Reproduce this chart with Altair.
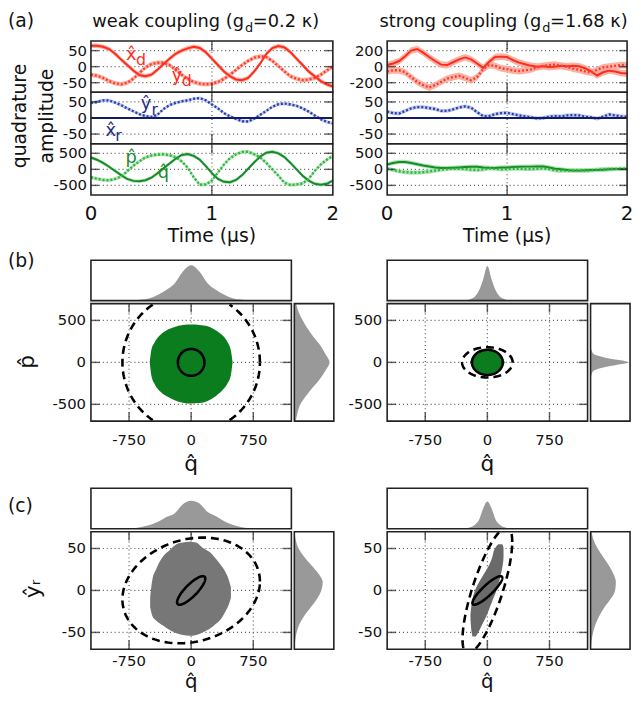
import numpy as np
import pandas as pd
import altair as alt

F = "DejaVu Sans"
INK = "#111111"
VIEW_W, VIEW_H = 634, 689

# ---------------- time traces (panel a) ----------------
T = [round(0.05 * i, 2) for i in range(41)]

WEAK = {
    "xd": [65, 65, 62, 55, 40, 22, 5, -12, -26, -30, -25, -10, 8, 25, 40, 50, 57, 62, 58, 45, 25,
           5, -15, -30, -40, -42, -35, -15, 10, 40, 58, 64, 60, 45, 25, 5, -15, -30, -45, -55, -62],
    "yd": [-25, -28, -35, -45, -52, -55, -50, -38, -20, -3, 8, 12, 12, 5, -10, -25, -38, -48, -53, -55, -53,
           -48, -38, -25, -10, 5, 18, 28, 32, 30, 18, 2, -15, -30, -38, -42, -40, -35, -25, -12, 0],
    "yr": [47, 50, 55, 55, 48, 40, 30, 21, 12, 6, 3, 10, 28, 40, 47, 52, 55, 60, 62, 55, 42,
           30, 15, 5, -3, -10, -11, -2, 10, 22, 35, 43, 45, 42, 38, 30, 20, 8, -4, -12, -17],
    "xr": [0] * 41,
    "q": [370, 300, 200, 80, -50, -180, -300, -360, -370, -340, -260, -120, 30, 180, 330, 450, 480, 420, 300, 100, -120,
          -300, -390, -400, -330, -180, 20, 220, 400, 520, 550, 500, 380, 200, 0, -200, -350, -450, -480, -450, -350],
    "p": [-250, -290, -330, -340, -300, -220, -60, 110, 250, 370, 430, 460, 470, 440, 380, 250, 50, -250, -480, -470, -350,
          -100, 150, 350, 470, 540, 550, 470, 370, 200, 0, -200, -420, -490, -470, -440, -300, -50, 150, 300, 420],
}
STRONG = {
    "xd": [20, 40, 70, 130, 200, 220, 175, 120, 70, 25, 20, 55, 90, 115, 90, 40, -15, 60, 120, 125, 120,
           80, 50, 30, 10, 0, 5, -5, 0, 10, 5, 10, 5, -20, -60, -110, -70, -50, -60, -80, -85],
    "yd": [-60, -45, -45, -70, -130, -190, -230, -260, -230, -190, -150, -130, -115, -140, -170, -130, -30, 20, 10, -20, -30,
           -50, -55, -45, -35, -10, 10, 20, 25, 10, -5, -25, -40, -60, -75, -40, -10, 0, 10, 20, 20],
    "yr": [20, 15, 14, 22, 30, 34, 34, 31, 28, 22, 22, 27, 33, 36, 32, 18, 6, 6, 12, 15, 16,
           12, 8, 5, 2, -1, 0, 4, 6, 5, 8, 9, 8, 4, 2, -2, 4, 11, 8, 5, 4],
    "xr": [0] * 41,
    "q": [150, 200, 230, 230, 200, 160, 120, 90, 60, 40, 40, 50, 60, 70, 80, 80, 60, 50, 45, 55, 60,
          70, 80, 85, 85, 90, 90, 60, 20, 0, -20, -40, -40, -30, -20, -20, -10, 0, 10, 10, 10],
    "p": [20, -20, -60, -90, -100, -100, -90, -70, -40, -10, 10, 20, 20, 10, -10, -20, 0, 30, 20, 0, 10,
          20, 20, 10, 10, 20, 30, 10, -30, -40, -40, -30, -30, -40, -30, -10, 0, 10, 10, 20, 20],
}
BAND_HALF = {
    "weak": {"xd": 7, "yd": 7, "yr": 5, "xr": 0, "q": 55, "p": 55},
    "strong": {"xd": 42, "yd": 42, "yr": 6, "xr": 0, "q": 65, "p": 65},
}
LINE_COL = {"xd": "#ff2b1c", "yd": "#ff3b2c", "yr": "#2b3f9e", "xr": "#121c66", "q": "#178a2b", "p": "#2db443"}
BAND_COL = {"xd": "#f8ab9c", "yd": "#f8ab9c", "yr": "#b2c0f2", "xr": "#b2c0f2", "q": "#a4e2a6", "p": "#a4e2a6"}
DOTTED = {"yd", "yr", "p"}

TIME_TICKS = [0, 1, 2]
TIME_LABELS = ["0", "1", "2"]

# trace annotations: (t, value, text, colour, size, dx, dy)
LAB_TOP = [(0.333, 36, "x\u0302", "#ff2b1c", 18, 0, 0), (0.333, 36, "d", "#ff2b1c", 16, 10, 5),
           (0.711, -28, "y\u0302", "#ff2b1c", 18, 0, 0), (0.711, -28, "d", "#ff2b1c", 16, 10, 6)]
LAB_MID = [(0.455, 42, "y\u0302", "#1e2d86", 18, 0, 0), (0.455, 42, "r", "#1e2d86", 16, 9, 6),
           (0.163, -42, "x\u0302", "#1e2d86", 18, 0, 0), (0.163, -42, "r", "#1e2d86", 16, 8, 5)]
LAB_BOT = [(0.333, 347, "p\u0302", "#1c8a2c", 18, 0, 0), (0.60, -130, "q\u0302", "#1c8a2c", 18, 0, 0)]

# ---------------- phase-space panels (b, c) ----------------
QDOM = [-1210, 1210]
Q_TICKS = [-750, 0, 750]
Q_LABELS = ["-750", "0", "750"]
BLOB_BL = {"q": [-500, -480, -440, -380, -300, -200, -100, 0, 100, 200, 300, 380, 440, 480, 500],
           "hi": [0, 150, 240, 320, 380, 420, 445, 450, 445, 430, 380, 320, 240, 140, 0],
           "lo": [0, -160, -260, -340, -400, -450, -480, -490, -485, -460, -400, -330, -250, -150, 0]}
BLOB_BR = {"q": [-210, -180, -150, -100, -50, 0, 50, 100, 150, 180, 210],
           "hi": [0, 70, 100, 125, 135, 140, 135, 125, 100, 70, 0],
           "lo": [0, -70, -100, -125, -135, -140, -135, -125, -100, -70, 0]}
BLOB_CL = {"q": [-495, -470, -420, -335, -260, -178, -100, -20, 60, 138, 220, 296, 360, 414, 450, 480],
           "hi": [-8, 12, 26, 41, 48, 55, 57, 58, 57, 51, 46, 38, 30, 22, 14, 4],
           "lo": [-20, -30, -36, -42, -47, -51, -53, -54, -53, -50, -46, -40, -34, -25, -18, -9]}
BLOB_CR = {"y": [-55, -50, -40, -30, -20, -10, 0, 10, 20, 30, 40, 50, 55],
           "ql": [-180, -190, -200, -205, -195, -180, -150, -100, -40, 20, 60, 90, 130],
           "qr": [-140, -110, -60, -10, 30, 70, 110, 140, 165, 185, 195, 195, 180]}

# covariance ellipses: (amplitude of q, amplitude of 2nd quadrature, phase, style)
ELL_BL = [(160, 160, 1.571, "solid"), (830, 830, 1.571, "dash")]
ELL_BR = [(185, 150, 1.571, "solid"), (305, 180, 1.571, "dash")]
ELL_CL = [(170, 17, 0.6, "solid"), (830, 63, 1.4, "dash")]
ELL_CR = [(180, 17, 0.5, "solid"), (300, 75, 0.69, "dash")]

# marginal histograms (relative heights)
H_BL_TOP_X = list(range(-900, 901, 100))
H_BL_TOP = [0, 0.005, 0.01, 0.03, 0.07, 0.17, 0.3, 0.48, 0.82, 1.0, 0.82, 0.48, 0.3, 0.17, 0.07, 0.03, 0.01, 0.005, 0]
H_BL_RIGHT_X = list(range(-700, 701, 100))
H_BL_RIGHT = [0.04, 0.09, 0.17, 0.33, 0.52, 0.72, 0.88, 1.0, 0.88, 0.74, 0.55, 0.38, 0.24, 0.12, 0.05]
H_BR_TOP_X = list(range(-300, 301, 50))
H_BR_TOP = [0, 0.02, 0.05, 0.12, 0.3, 0.62, 1.0, 0.62, 0.3, 0.12, 0.05, 0.02, 0]
H_BR_RIGHT_X = list(range(-200, 201, 50))
H_BR_RIGHT = [0, 0.02, 0.08, 0.45, 1.0, 0.45, 0.08, 0.02, 0]
H_CL_TOP_X = list(range(-900, 901, 100))
H_CL_TOP = [0, 0.005, 0.02, 0.06, 0.13, 0.25, 0.42, 0.55, 0.88, 1.0, 0.9, 0.6, 0.45, 0.27, 0.14, 0.06, 0.02, 0.005, 0]
H_CL_RIGHT_X = list(range(-70, 71, 10))
H_CL_RIGHT = [0.0, 0.03, 0.08, 0.18, 0.35, 0.58, 0.8, 0.95, 1.0, 0.85, 0.6, 0.35, 0.15, 0.05, 0.01]
H_CR_TOP_X = list(range(-300, 301, 50))
H_CR_TOP = [0, 0.02, 0.06, 0.15, 0.33, 0.75, 1.0, 0.75, 0.33, 0.15, 0.06, 0.02, 0]
H_CR_RIGHT_X = list(range(-70, 71, 10))
H_CR_RIGHT = [0.01, 0.04, 0.1, 0.2, 0.35, 0.55, 0.8, 0.97, 1.0, 0.9, 0.72, 0.5, 0.28, 0.12, 0.04]


# ---------------- helpers ----------------
def sx(dom, x0, w):
    return alt.Scale(domain=dom, range=[x0, x0 + w], nice=False, zero=False)


def sy(dom, y0, h):
    return alt.Scale(domain=dom, range=[y0 + h, y0], nice=False, zero=False)


def txt(text, x, y, size, color=INK, angle=0, align="left", baseline="alphabetic"):
    return alt.Chart(pd.DataFrame({"s": [text]})).mark_text(
        font=F, fontSize=size, color=color, angle=angle, align=align, baseline=baseline
    ).encode(text="s:N", x=alt.value(x), y=alt.value(y))


def frame(xs, ys, xdom, ydom):
    d = pd.DataFrame({"a": [xdom[0]], "b": [xdom[1]], "c": [ydom[0]], "e": [ydom[1]]})
    return alt.Chart(d).mark_rect(fillOpacity=0, stroke="#222222", strokeWidth=1.6).encode(
        x=alt.X("a:Q", scale=xs, axis=None), x2="b:Q", y=alt.Y("c:Q", scale=ys, axis=None), y2="e:Q")


def hgrid(vals, xs, ys, xdom):
    d = pd.DataFrame({"v": vals, "a": xdom[0], "b": xdom[1]})
    return alt.Chart(d).mark_rule(strokeDash=[1, 3], color="#555555", strokeWidth=1.2).encode(
        y=alt.Y("v:Q", scale=ys, axis=None), x=alt.X("a:Q", scale=xs, axis=None), x2="b:Q")


def vgrid(vals, xs, ys, ydom):
    d = pd.DataFrame({"v": vals, "c": ydom[0], "e": ydom[1]})
    return alt.Chart(d).mark_rule(strokeDash=[1, 3], color="#555555", strokeWidth=1.2).encode(
        x=alt.X("v:Q", scale=xs, axis=None), y=alt.Y("c:Q", scale=ys, axis=None), y2="e:Q")


def ticks_y(vals, ys, x0, w, tl):
    d = pd.DataFrame({"v": vals})
    return [alt.Chart(d).mark_tick(orient="horizontal", size=tl, thickness=1.5, color="#222").encode(
        y=alt.Y("v:Q", scale=ys, axis=None), x=alt.value(xp)) for xp in (x0 + tl / 2, x0 + w - tl / 2)]


def ticks_x(vals, xs, y0, h, tl):
    d = pd.DataFrame({"v": vals})
    return [alt.Chart(d).mark_tick(orient="vertical", size=tl, thickness=1.5, color="#222").encode(
        x=alt.X("v:Q", scale=xs, axis=None), y=alt.value(yp)) for yp in (y0 + tl / 2, y0 + h - tl / 2)]


def ylabels(vals, ys, xpix, size=15):
    d = pd.DataFrame({"v": vals, "lab": [str(v) for v in vals]})
    return alt.Chart(d).mark_text(font=F, fontSize=size, color=INK, align="right", baseline="middle").encode(
        y=alt.Y("v:Q", scale=ys, axis=None), x=alt.value(xpix), text="lab:N")


def xlabels(vals, labs, xs, ypix, size):
    d = pd.DataFrame({"v": vals, "lab": labs})
    return alt.Chart(d).mark_text(font=F, fontSize=size, color=INK, align="center", baseline="middle").encode(
        x=alt.X("v:Q", scale=xs, axis=None), y=alt.value(ypix), text="lab:N")


def time_panel(side, keys, ydom, yticks, x0, y0, w, h, labels=(), bottom=False):
    data = WEAK if side == "weak" else STRONG
    xdom = [0, 2]
    xs, ys = sx(xdom, x0, w), sy(ydom, y0, h)
    out = [hgrid(yticks, xs, ys, xdom), vgrid([1], xs, ys, ydom)]
    for k in keys:
        hw = BAND_HALF[side][k]
        if hw <= 0:
            continue
        vals = data[k]
        df = pd.DataFrame({"t": T, "lo": [v - hw for v in vals], "hi": [v + hw for v in vals]})
        out.append(alt.Chart(df).mark_area(color=BAND_COL[k], opacity=0.9).encode(
            x=alt.X("t:Q", scale=xs, axis=None), y=alt.Y("lo:Q", scale=ys, axis=None, stack=None), y2="hi:Q"))
    for k in keys:
        df = pd.DataFrame({"t": T, "v": data[k]})
        if k in DOTTED:
            mk = alt.Chart(df).mark_line(color=LINE_COL[k], strokeWidth=2.4, strokeDash=[2, 2])
        else:
            mk = alt.Chart(df).mark_line(color=LINE_COL[k], strokeWidth=2)
        out.append(mk.encode(x=alt.X("t:Q", scale=xs, axis=None), y=alt.Y("v:Q", scale=ys, axis=None)))
    out += ticks_y(yticks, ys, x0, w, 8) + ticks_x([1], xs, y0, h, 10)
    out.append(ylabels(yticks, ys, x0 - 4, 15))
    out.append(frame(xs, ys, xdom, ydom))
    if bottom:
        out.append(xlabels(TIME_TICKS, TIME_LABELS, xs, y0 + h + 19, 20))
        out.append(txt("Time (\u03bcs)", x0 + w / 2, y0 + h + 42, 19, align="center", baseline="middle"))
    for (t, v, s, c, size, dx, dy) in labels:
        out.append(alt.Chart(pd.DataFrame({"t": [t], "v": [v], "s": [s]})).mark_text(
            font=F, fontSize=size, color=c, dx=dx, dy=dy, align="center", baseline="middle").encode(
            x=alt.X("t:Q", scale=xs, axis=None), y=alt.Y("v:Q", scale=ys, axis=None), text="s:N"))
    return out


def ellipse_df(A, B, phi, ydom):
    th = np.linspace(0, 2 * np.pi, 181)
    q = A * np.cos(th)
    y = B * np.cos(th - phi)
    inside = (y >= ydom[0]) & (y <= ydom[1])
    seg = np.cumsum(~inside)
    df = pd.DataFrame({"i": np.arange(len(th)), "q": q, "y": y, "seg": seg})
    return df[inside]


def main_panel(ydom, yticks, blob, blob_color, ells, x0, y0, w, h, xlab_dy, qhat_dy, qsize):
    xs, ys = sx(QDOM, x0, w), sy(ydom, y0, h)
    out = [hgrid(yticks, xs, ys, QDOM), vgrid(Q_TICKS, xs, ys, ydom)]
    df = pd.DataFrame(blob)
    if "q" in blob:
        out.append(alt.Chart(df).mark_area(color=blob_color, interpolate="monotone").encode(
            x=alt.X("q:Q", scale=xs, axis=None), y=alt.Y("lo:Q", scale=ys, axis=None, stack=None), y2="hi:Q"))
    else:
        out.append(alt.Chart(df).mark_area(color=blob_color, orient="horizontal", interpolate="monotone").encode(
            y=alt.Y("y:Q", scale=ys, axis=None), x=alt.X("ql:Q", scale=xs, axis=None, stack=None), x2="qr:Q"))
    for (A, B, phi, style) in ells:
        d = ellipse_df(A, B, phi, ydom)
        if style == "dash":
            mk = alt.Chart(d).mark_line(color="#000", strokeWidth=2.6, strokeDash=[8, 5])
        else:
            mk = alt.Chart(d).mark_line(color="#000", strokeWidth=2.6)
        out.append(mk.encode(x=alt.X("q:Q", scale=xs, axis=None), y=alt.Y("y:Q", scale=ys, axis=None),
                             detail="seg:N", order=alt.Order("i:Q")))
    out += ticks_y(yticks, ys, x0, w, 9) + ticks_x(Q_TICKS, xs, y0, h, 9)
    out.append(ylabels(yticks, ys, x0 - 5, 15))
    out.append(xlabels(Q_TICKS, Q_LABELS, xs, y0 + h + xlab_dy, 15))
    out.append(txt("q\u0302", x0 + w / 2, y0 + h + qhat_dy, qsize, align="center", baseline="middle"))
    out.append(frame(xs, ys, QDOM, ydom))
    return out


def hist_top(xv, hv, hmax, x0, y0, w=203, h=41):
    xs, ys = sx(QDOM, x0, w), sy([0, hmax], y0, h)
    df = pd.DataFrame({"q": xv, "h": hv})
    return [alt.Chart(df).mark_area(color="#999999", interpolate="monotone").encode(
        x=alt.X("q:Q", scale=xs, axis=None), y=alt.Y("h:Q", scale=ys, axis=None)),
        frame(xs, ys, QDOM, [0, hmax])]


def hist_right(yv, hv, ydom, hmax, x0, y0, w=40, h=119):
    xs, ys = sx([0, hmax], x0, w), sy(ydom, y0, h)
    df = pd.DataFrame({"y": yv, "h": hv})
    return [alt.Chart(df).mark_area(color="#999999", interpolate="monotone", orient="horizontal").encode(
        y=alt.Y("y:Q", scale=ys, axis=None), x=alt.X("h:Q", scale=xs, axis=None)),
        frame(xs, ys, [0, hmax], ydom)]


# ---------------- layout (pixel rectangles of the panels) ----------------
XL, WL = 84, 245      # left column
XR, WR = 384, 243     # right column (time panels)
YA = [29, 81, 133]    # three stacked time panels, height 52
HA = 52
PDOM = [-700, 700]
YDOM = [-70, 70]

layers = []
# row (a)
layers += time_panel("weak", ["xd", "yd"], [-80, 80], [-50, 0, 50], XL, YA[0], WL, HA, LAB_TOP)
layers += time_panel("weak", ["yr", "xr"], [-80, 80], [-50, 0, 50], XL, YA[1], WL, HA, LAB_MID)
layers += time_panel("weak", ["q", "p"], [-800, 800], [-500, 0, 500], XL, YA[2], WL, HA, LAB_BOT, bottom=True)
layers += time_panel("strong", ["xd", "yd"], [-320, 320], [-200, 0, 200], XR, YA[0], WR, HA)
layers += time_panel("strong", ["yr", "xr"], [-80, 80], [-50, 0, 50], XR, YA[1], WR, HA)
layers += time_panel("strong", ["q", "p"], [-800, 800], [-500, 0, 500], XR, YA[2], WR, HA, bottom=True)
layers += [
    txt("(a)", 0, 15, 19),
    txt("weak coupling (g", 239, 15, 18, align="right"),
    txt("d", 240, 20, 13),
    txt("=0.2 \u03ba)", 248, 15, 18),
    txt("strong coupling (g", 540, 15, 18, align="right"),
    txt("d", 541, 20, 13),
    txt("=1.68 \u03ba)", 549, 15, 18),
    txt("quadrature", 12, 105, 19, angle=270, align="center", baseline="middle"),
    txt("amplitude", 40, 105, 19, angle=270, align="center", baseline="middle"),
]

# row (b)
layers += hist_top(H_BL_TOP_X, H_BL_TOP, 1.14, XL, 251)
layers += main_panel(PDOM, [-500, 0, 500], BLOB_BL, "#0b7d1f", ELL_BL, XL, 295, 203, 119, 19, 44, 22)
layers += hist_right(H_BL_RIGHT_X, H_BL_RIGHT, PDOM, 1.12, XL + 206, 295)
layers += hist_top(H_BR_TOP_X, H_BR_TOP, 1.17, XR, 251)
layers += main_panel(PDOM, [-500, 0, 500], BLOB_BR, "#0b7d1f", ELL_BR, XR, 295, 203, 119, 19, 44, 22)
layers += hist_right(H_BR_RIGHT_X, H_BR_RIGHT, PDOM, 1.03, XR + 206, 295)
layers += [txt("(b)", 0, 258, 19),
           txt("p\u0302", 19, 354, 22, angle=270, align="center", baseline="middle")]

# row (c)
layers += hist_top(H_CL_TOP_X, H_CL_TOP, 1.45, XL, 482)
layers += main_panel(YDOM, [-50, 0, 50], BLOB_CL, "#777777", ELL_CL, XL, 526, 203, 119, 12, 33, 20)
layers += hist_right(H_CL_RIGHT_X, H_CL_RIGHT, YDOM, 1.39, XL + 206, 526)
layers += hist_top(H_CR_TOP_X, H_CR_TOP, 1.49, XR, 482)
layers += main_panel(YDOM, [-50, 0, 50], BLOB_CR, "#6a6a6a", ELL_CR, XR, 526, 203, 119, 12, 33, 20)
layers += hist_right(H_CR_RIGHT_X, H_CR_RIGHT, YDOM, 1.56, XR + 206, 526)
layers += [txt("(c)", 0, 506, 19),
           txt("y\u0302\u1d63", 25, 584, 22, angle=270, align="center", baseline="middle")]

chart = alt.layer(*layers).resolve_scale(x="independent", y="independent").properties(
    width=VIEW_W, height=VIEW_H, padding=0, background="white",
    autosize=alt.AutoSizeParams(type="none"),
).configure_view(strokeOpacity=0)

chart.save("out.html", embed_options={"renderer": "svg", "actions": False})
